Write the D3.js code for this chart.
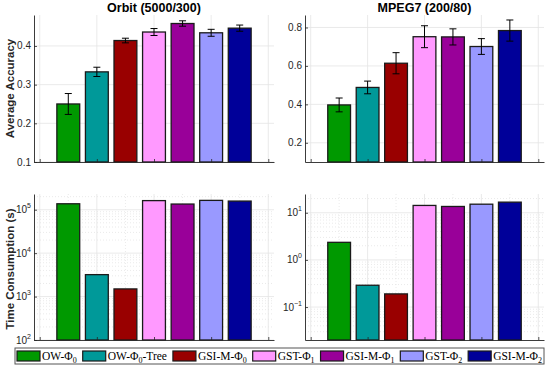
<!DOCTYPE html>
<html>
<head>
<meta charset="utf-8">
<script src="https://cdn.jsdelivr.net/npm/d3@7"></script>
<style>
  html, body { margin: 0; padding: 0; background: #fff; }
  svg { display: block; }
</style>
</head>
<body>
<div id="chart"></div>
<script>
// methods, in bar order
const methods = ['OW', 'OW-Tree', 'GSI-M-0', 'GST-1', 'GSI-M-1', 'GST-2', 'GSI-M-2'];
const colors = ['#009900', '#009999', '#990000', '#ff99ff', '#990099', '#9999ff', '#000099'];

// accuracy (mean, std) per dataset
const orbitAcc = [0.250, 0.333, 0.414, 0.436, 0.458, 0.434, 0.446];
const orbitErr = [0.027, 0.012, 0.006, 0.009, 0.007, 0.009, 0.008];
const mpegAcc = [0.397, 0.488, 0.614, 0.752, 0.751, 0.701, 0.784];
const mpegErr = [0.036, 0.033, 0.055, 0.057, 0.042, 0.041, 0.055];

// time consumption in seconds
const orbitTime = [1.37e5, 3.2e3, 1.5e3, 1.62e5, 1.35e5, 1.64e5, 1.58e5];
const mpegTime = [2.36, 0.29, 0.19, 14.3, 13.6, 15.2, 16.8];

const titles = ['Orbit (5000/300)', 'MPEG7 (200/80)'];
const accTicks = [[0.1, 0.2, 0.3, 0.4], [0.2, 0.4, 0.6, 0.8]];
const timeTicks = [[1e2, 1e3, 1e4, 1e5], [1e-1, 1e0, 1e1]];
const xTicks = [0, 2, 4, 6, 8];

// legend labels: [prefix, subscript, suffix]
const legendLabels = [
  ['OW-\u03A6', '0', ''],
  ['OW-\u03A6', '0', '-Tree'],
  ['GSI-M-\u03A6', '0', ''],
  ['GST-\u03A6', '1', ''],
  ['GSI-M-\u03A6', '1', ''],
  ['GST-\u03A6', '2', ''],
  ['GSI-M-\u03A6', '2', '']
];

const W = 548, H = 367;
const axColor = '#262626';
const gridColor = '#e4e4e4';

const svg = d3.select('#chart').append('svg')
  .attr('width', W).attr('height', H)
  .style('font-family', '"Liberation Sans", Arial, sans-serif');

const cols = [[34, 274], [305, 544]];
const rows = [[15, 162], [194, 340]];

function drawPanel(col, row, values, errs, yDomain, ticks, isLog) {
  const [x0, x1] = cols[col];
  const [y0, y1] = rows[row];
  const g = svg.append('g');

  const x = d3.scaleLinear().domain([-0.2, 8.2]).range([x0, x1]);
  const y = (isLog ? d3.scaleLog() : d3.scaleLinear()).domain(yDomain).range([y1, y0]);

  // grid
  if (isLog) {
    const lo = Math.floor(Math.log10(yDomain[0])), hi = Math.ceil(Math.log10(yDomain[1]));
    const minor = [];
    for (let e = lo; e <= hi; e++) {
      for (let m = 2; m <= 9; m++) {
        const v = m * Math.pow(10, e);
        if (v > yDomain[0] && v < yDomain[1]) minor.push(v);
      }
    }
    g.selectAll('.ymin').data(minor).enter().append('line')
      .attr('x1', x0).attr('x2', x1)
      .attr('y1', d => y(d)).attr('y2', d => y(d))
      .attr('stroke', gridColor).attr('stroke-width', 0.8)
      .attr('stroke-dasharray', '1,2');
    g.selectAll('.xmin').data([1, 3, 5, 7]).enter().append('line')
      .attr('x1', d => x(d)).attr('x2', d => x(d))
      .attr('y1', y0).attr('y2', y1)
      .attr('stroke', gridColor).attr('stroke-width', 0.8)
      .attr('stroke-dasharray', '1,2');
  }
  g.selectAll('.ygrid').data(ticks).enter().append('line')
    .attr('x1', x0).attr('x2', x1)
    .attr('y1', d => y(d)).attr('y2', d => y(d))
    .attr('stroke', gridColor).attr('stroke-width', 0.8);
  g.selectAll('.xgrid').data(xTicks).enter().append('line')
    .attr('x1', d => x(d)).attr('x2', d => x(d))
    .attr('y1', y0).attr('y2', y1)
    .attr('stroke', gridColor).attr('stroke-width', 0.8);

  // bars
  const bw = x(0.8) - x(0);
  g.selectAll('.bar').data(values).enter().append('rect')
    .attr('x', (d, i) => x(i + 1) - bw / 2)
    .attr('y', d => y(d))
    .attr('width', bw)
    .attr('height', d => y1 - y(d))
    .attr('fill', (d, i) => colors[i])
    .attr('stroke', '#1a1a1a')
    .attr('stroke-width', 1.3);

  // error bars
  if (errs) {
    const eb = g.selectAll('.err').data(values).enter().append('g');
    eb.append('line')
      .attr('x1', (d, i) => x(i + 1)).attr('x2', (d, i) => x(i + 1))
      .attr('y1', (d, i) => y(d - errs[i])).attr('y2', (d, i) => y(d + errs[i]));
    eb.append('line')
      .attr('x1', (d, i) => x(i + 1) - 3.5).attr('x2', (d, i) => x(i + 1) + 3.5)
      .attr('y1', (d, i) => y(d + errs[i])).attr('y2', (d, i) => y(d + errs[i]));
    eb.append('line')
      .attr('x1', (d, i) => x(i + 1) - 3.5).attr('x2', (d, i) => x(i + 1) + 3.5)
      .attr('y1', (d, i) => y(d - errs[i])).attr('y2', (d, i) => y(d - errs[i]));
    eb.selectAll('line').attr('stroke', '#000').attr('stroke-width', 1);
  }

  // axes
  const yAxis = g.append('g').attr('transform', `translate(${x0},0)`)
    .call(d3.axisLeft(y).tickValues(ticks).tickSizeInner(-3).tickSizeOuter(0).tickFormat(''));
  const xAxis = g.append('g').attr('transform', `translate(0,${y1})`)
    .call(d3.axisBottom(x).tickValues(xTicks).tickSizeInner(-3).tickSizeOuter(0).tickFormat(''));
  [yAxis, xAxis].forEach(a => {
    a.select('.domain').attr('stroke', axColor).attr('stroke-width', 0.9);
    a.selectAll('.tick line').attr('stroke', axColor).attr('stroke-width', 0.8);
  });

  // tick labels
  const lab = g.selectAll('.tl').data(ticks).enter().append('text')
    .attr('x', x0 - 3)
    .attr('y', d => y(d) + 3.5)
    .attr('text-anchor', 'end')
    .attr('font-size', 10)
    .attr('fill', axColor);
  if (isLog) {
    lab.append('tspan').text('10');
    lab.append('tspan').attr('dy', -5).attr('font-size', 7)
      .text(d => String(Math.round(Math.log10(d))).replace('-', '\u2212'));
  } else {
    lab.text(d => d.toFixed(1));
  }
  return g;
}

drawPanel(0, 0, orbitAcc, orbitErr, [0.1, 0.48], accTicks[0], false);
drawPanel(1, 0, mpegAcc, mpegErr, [0.1, 0.865], accTicks[1], false);
drawPanel(0, 1, orbitTime, null, [100, 2.3e5], timeTicks[0], true);
drawPanel(1, 1, mpegTime, null, [0.02, 25], timeTicks[1], true);

// titles
titles.forEach((t, i) => {
  svg.append('text')
    .attr('x', (cols[i][0] + cols[i][1]) / 2)
    .attr('y', 12)
    .attr('text-anchor', 'middle')
    .attr('font-size', 12.5)
    .attr('font-weight', 'bold')
    .attr('fill', '#000')
    .text(t);
});

// y labels
[['Average Accuracy', 88.5], ['Time Consumption (s)', 269]].forEach(([t, cy]) => {
  svg.append('text')
    .attr('transform', `translate(14,${cy}) rotate(-90)`)
    .attr('text-anchor', 'middle')
    .attr('font-size', 11.5)
    .attr('font-weight', 'bold')
    .attr('fill', axColor)
    .text(t);
});

// legend
const lx = 15, ly = 348, lw = 529, lh = 16;
const leg = svg.append('g');
leg.append('rect')
  .attr('x', lx).attr('y', ly).attr('width', lw).attr('height', lh)
  .attr('fill', '#fff').attr('stroke', '#555').attr('stroke-width', 1);

const items = legendLabels.map((l, i) => {
  const t = leg.append('text')
    .attr('y', ly + 12)
    .attr('font-family', '"Liberation Serif", "DejaVu Serif", serif')
    .attr('font-size', 11.5)
    .attr('fill', '#000');
  t.append('tspan').text(l[0]);
  t.append('tspan').attr('dy', 2.5).attr('font-size', 8).text(l[1]);
  if (l[2]) t.append('tspan').attr('dy', -2.5).text(l[2]);
  return { t, w: t.node().getComputedTextLength(), i };
});
const sw = 23, sgap = 2, pad = 2;
const totalW = d3.sum(items, d => sw + sgap + d.w);
const space = (lw - 2 * pad - totalW) / (items.length - 1);
let cx = lx + pad;
items.forEach(d => {
  leg.append('rect')
    .attr('x', cx).attr('y', ly + 3).attr('width', sw).attr('height', 10)
    .attr('fill', colors[d.i]).attr('stroke', '#1a1a1a').attr('stroke-width', 1.2);
  d.t.attr('x', cx + sw + sgap);
  cx += sw + sgap + d.w + space;
});
</script>
</body>
</html>
